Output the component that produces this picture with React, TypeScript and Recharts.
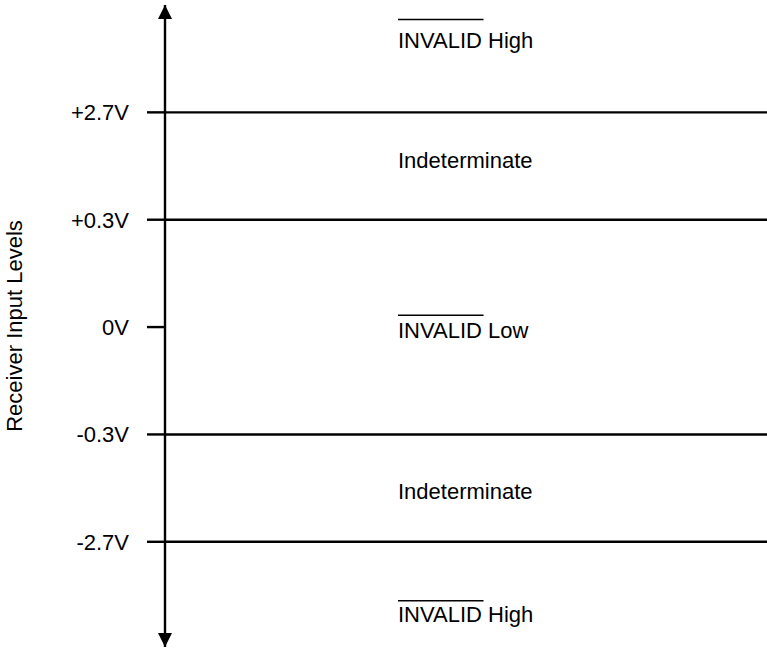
import React from "react";
import {
  ComposedChart,
  XAxis,
  YAxis,
  ReferenceLine,
  Scatter,
} from "recharts";

// receiver thresholds, drawn on an ordinal axis (evenly spaced, not to scale)
const levelLabels = ["+2.7V", "+0.3V", "0V", "-0.3V", "-2.7V"];
const levelPositions = [2, 1, 0, -1, -2];
const boundaryLevels = ["+2.7V", "+0.3V", "-0.3V", "-2.7V"];

// state names written in each band
const regionNames = [
  "INVALID High",
  "Indeterminate",
  "INVALID Low",
  "Indeterminate",
  "INVALID High",
];
const regionOverlined = [true, false, true, false, true];
const regionCenters = [2.67, 1.55, -0.03, -1.53, -2.68];
const regionX = 0.387;
// gap between the bar over INVALID and the text middle
const overlineGap = [21, 0, 15, 0, 14];

const FONT = 22;
const LINE_W = 2.4;

const posOf = (label: string) => levelPositions[levelLabels.indexOf(label)];

const regionData = regionNames.map((name, i) => ({
  x: regionX,
  y: regionCenters[i],
  name,
  overline: regionOverlined[i],
  gap: overlineGap[i],
}));

const RegionLabel = (props: any) => {
  const { cx, cy, payload } = props;
  if (cx == null || cy == null) return null;
  // width of "INVALID" in Arial metrics
  const barWidth = FONT * 3.89;
  return (
    <g>
      {payload.overline && (
        <line
          x1={cx}
          x2={cx + barWidth}
          y1={cy - payload.gap}
          y2={cy - payload.gap}
          stroke="#000"
          strokeWidth={1.5}
        />
      )}
      <text
        x={cx}
        y={cy}
        fontSize={FONT}
        fill="#000"
        dominantBaseline="central"
        textAnchor="start"
      >
        {payload.name}
      </text>
    </g>
  );
};

const App: React.FC = () => {
  return (
    <div
      style={{
        position: "absolute",
        left: 0,
        top: 0,
        width: 767,
        height: 649,
        background: "#fff",
        fontFamily: "'Liberation Sans', Arial, sans-serif",
      }}
    >
      <ComposedChart
        width={767}
        height={649}
        data={regionData}
        margin={{ top: 5, right: 0, left: 0, bottom: 2 }}
      >
        <defs>
          <marker
            id="axisArrow"
            viewBox="0 0 10 10"
            refX={10}
            refY={5}
            markerWidth={15}
            markerHeight={14}
            markerUnits="userSpaceOnUse"
            orient="auto-start-reverse"
          >
            <path d="M0,0 L10,5 L0,10 z" fill="#000" />
          </marker>
        </defs>
        <XAxis type="number" dataKey="x" domain={[0, 1]} hide />
        <YAxis
          type="number"
          dataKey="y"
          domain={[-2.98, 3]}
          width={165}
          ticks={levelPositions}
          interval={0}
          tickFormatter={(v: number) => levelLabels[levelPositions.indexOf(v)]}
          tickSize={18}
          tickMargin={18}
          tick={{ fontSize: FONT, fill: "#000" }}
          tickLine={{ stroke: "#000", strokeWidth: LINE_W }}
          axisLine={{
            stroke: "#000",
            strokeWidth: LINE_W,
            markerStart: "url(#axisArrow)",
            markerEnd: "url(#axisArrow)",
          }}
          label={{
            value: "Receiver Input Levels",
            angle: -90,
            position: "insideLeft",
            offset: 14,
            style: { textAnchor: "middle", fontSize: FONT, fill: "#000" },
          }}
        />
        {boundaryLevels.map((lvl) => (
          <ReferenceLine
            key={lvl}
            y={posOf(lvl)}
            stroke="#000"
            strokeWidth={LINE_W}
            ifOverflow="extendDomain"
          />
        ))}
        <Scatter
          dataKey="y"
          isAnimationActive={false}
          shape={RegionLabel}
        />
      </ComposedChart>
    </div>
  );
};

export default App;
